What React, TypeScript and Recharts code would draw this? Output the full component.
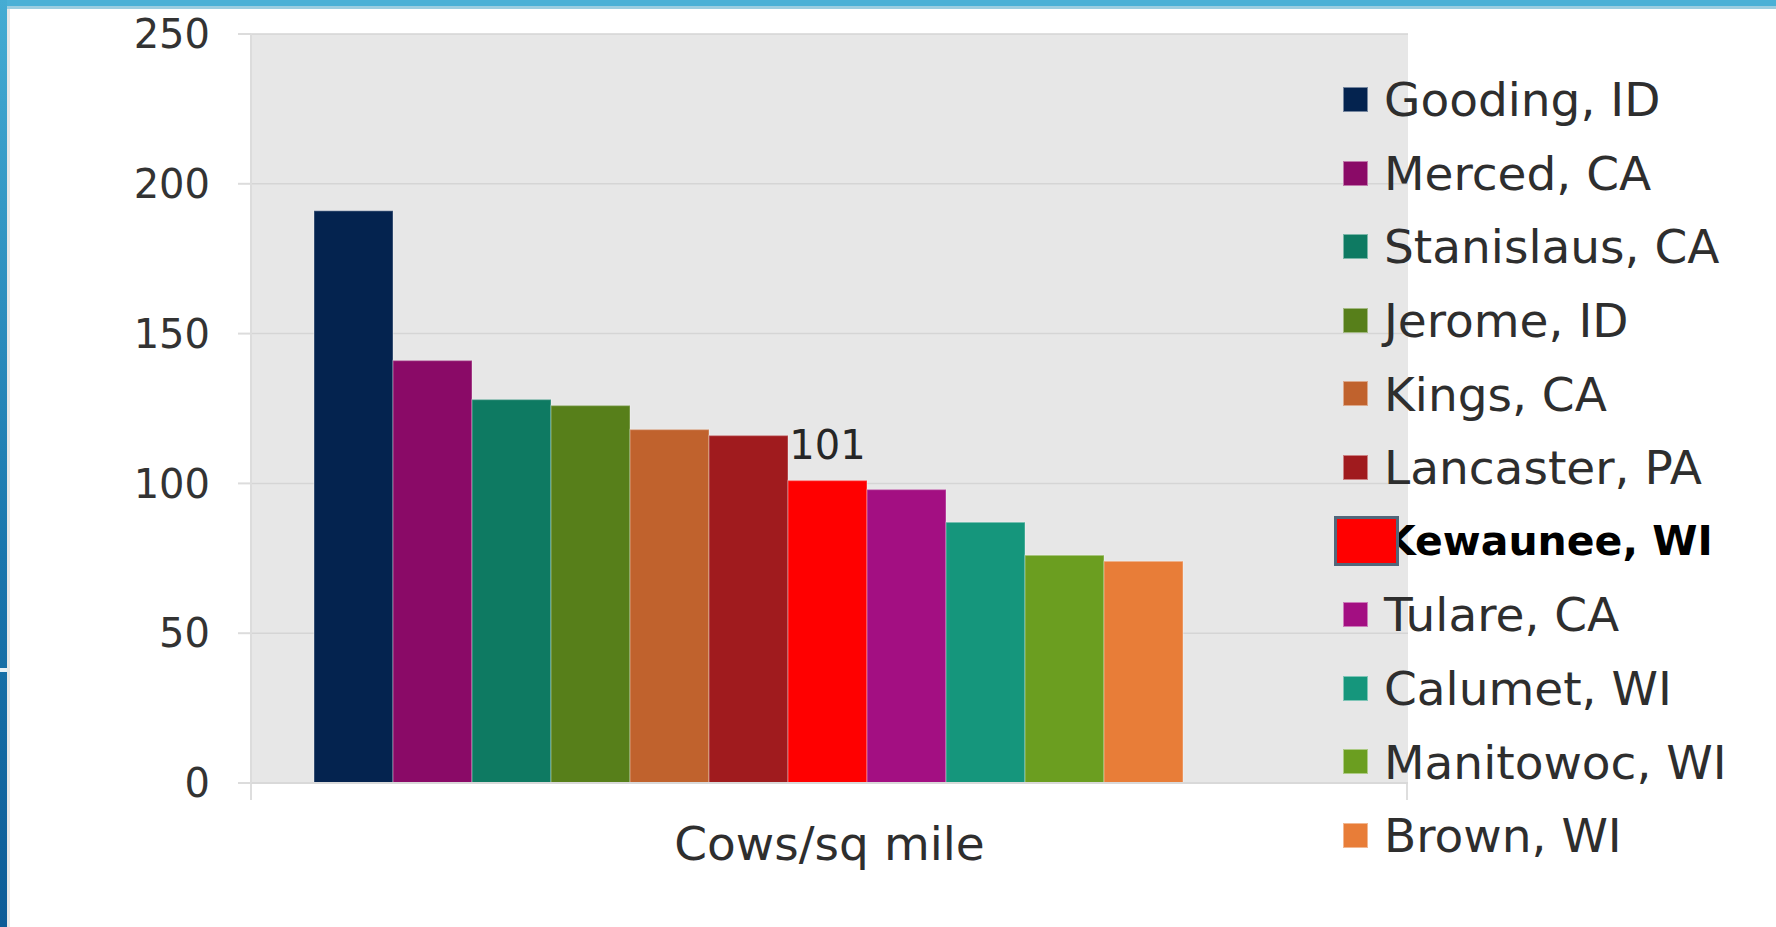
import React from "react";
import {
  BarChart,
  Bar,
  XAxis,
  YAxis,
  CartesianGrid,
  Legend,
  LabelList,
  Label,
} from "recharts";

const counties = [
  "Gooding, ID",
  "Merced, CA",
  "Stanislaus, CA",
  "Jerome, ID",
  "Kings, CA",
  "Lancaster, PA",
  "Kewaunee, WI",
  "Tulare, CA",
  "Calumet, WI",
  "Manitowoc, WI",
  "Brown, WI",
];

const cowsPerSqMile = [191, 141, 128, 126, 118, 116, 101, 98, 87, 76, 74];

const barColors = [
  "#04234f",
  "#8a0a67",
  "#0e7a62",
  "#577f1a",
  "#c0622d",
  "#a01b1e",
  "#ff0000",
  "#a30f82",
  "#15967c",
  "#6b9e20",
  "#e87d38",
];

const categories = ["Cows/sq mile"];
const yTicks = [0, 50, 100, 150, 200, 250];
const highlighted = "Kewaunee, WI";

const FONT = "'DejaVu Sans', sans-serif";

// one row per category, one key per county
const data = categories.map((name) => {
  const row: Record<string, string | number> = { name };
  counties.forEach((_, i) => {
    row[`c${i}`] = cowsPerSqMile[i];
  });
  return row;
});

function renderLegend(props: any) {
  const { payload } = props;
  return (
    <div style={{ fontFamily: FONT }}>
      {payload.map((entry: any) => {
        const hl = entry.value === highlighted;
        return (
          <div
            key={entry.value}
            style={{
              position: "relative",
              height: 73.6,
              display: "flex",
              alignItems: "center",
            }}
          >
            {hl ? (
              <div
                style={{
                  position: "absolute",
                  left: 0,
                  top: 11,
                  width: 59,
                  height: 44,
                  background: entry.color,
                  border: "3px solid #52677a",
                  zIndex: 2,
                }}
              />
            ) : (
              <div
                style={{
                  position: "absolute",
                  left: 9,
                  top: 24,
                  width: 23,
                  height: 23,
                  background: entry.color,
                  border: "1.5px solid rgba(255,255,255,0.45)",
                }}
              />
            )}
            <span
              style={{
                marginLeft: 50,
                fontSize: hl ? 41 : 47,
                fontWeight: hl ? 700 : 400,
                color: hl ? "#000" : "#2e2e2e",
                whiteSpace: "nowrap",
              }}
            >
              {entry.value}
            </span>
          </div>
        );
      })}
    </div>
  );
}

export default function App() {
  return (
    <div
      style={{
        position: "absolute",
        left: 0,
        top: 0,
        width: 1776,
        height: 927,
        background: "#fff",
        overflow: "hidden",
        fontFamily: FONT,
      }}
    >
      {/* slide frame */}
      <div style={{ position: "absolute", left: 0, top: 0, width: 1776, height: 6, background: "#4ab0d6" }} />
      <div style={{ position: "absolute", left: 0, top: 6, width: 1776, height: 3, background: "#9bcde0" }} />
      <div
        style={{
          position: "absolute",
          left: 0,
          top: 0,
          width: 7,
          height: 927,
          background: "linear-gradient(#45acd3, #1a76ad 60%, #0d5c97)",
        }}
      />
      <div style={{ position: "absolute", left: 7, top: 9, width: 3, height: 918, background: "#e8e8e8" }} />
      <div style={{ position: "absolute", left: 0, top: 668, width: 7, height: 4, background: "#e6f0f6" }} />
      {/* category boundary ticks below the axis */}
      <div style={{ position: "absolute", left: 250, top: 783, width: 2, height: 17, background: "#dedede" }} />
      <div style={{ position: "absolute", left: 1406, top: 783, width: 2, height: 17, background: "#dedede" }} />

      <BarChart
        width={1776}
        height={927}
        data={data}
        margin={{ top: 34, right: 368, bottom: 0, left: 0 }}
        barGap={0}
        barCategoryGap={63}
        style={{ position: "absolute", left: 0, top: 0 }}
      >
        <CartesianGrid
          vertical={false}
          fill="#e7e7e7"
          stroke="#d5d5d5"
          strokeWidth={1.5}
        />
        <XAxis
          dataKey="name"
          height={144}
          tick={false}
          tickLine={false}
          axisLine={{ stroke: "#d9d9d9", strokeWidth: 2 }}
          padding={{ left: 0, right: 157 }}
        >
          <Label
            value={categories[0]}
            position="insideTop"
            offset={44}
            fill="#2e2e2e"
            fontSize={47}
            fontFamily={FONT}
          />
        </XAxis>
        <YAxis
          width={251}
          domain={[0, 250]}
          ticks={yTicks}
          tickSize={13}
          tickMargin={28}
          axisLine={{ stroke: "#dcdcdc", strokeWidth: 2 }}
          tickLine={{ stroke: "#dcdcdc", strokeWidth: 2 }}
          tick={{ fill: "#333", fontSize: 40, fontFamily: FONT }}
        />
        <Legend
          layout="vertical"
          align="center"
          verticalAlign="middle"
          content={renderLegend}
          itemSorter={(item: any) => counties.indexOf(item.value)}
          wrapperStyle={{ left: 1334, top: 63, width: 440 }}
        />
        {counties.map((county, i) => (
          <Bar
            key={county}
            dataKey={`c${i}`}
            name={county}
            fill={barColors[i]}
            stroke="rgba(255,255,255,0.25)"
            strokeWidth={1.5}
            isAnimationActive={false}
          >
            {county === highlighted && (
              <LabelList
                dataKey={`c${i}`}
                position="top"
                offset={21}
                fill="#262626"
                fontSize={40}
                fontFamily={FONT}
              />
            )}
          </Bar>
        ))}
      </BarChart>
    </div>
  );
}
